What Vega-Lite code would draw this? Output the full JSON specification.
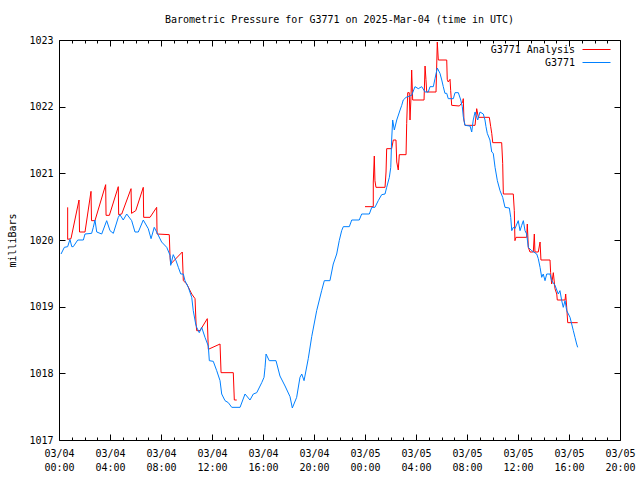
{
  "$schema": "https://vega.github.io/schema/vega-lite/v6.json",
  "width": 561,
  "height": 400,
  "autosize": {"type": "none"},
  "padding": {"left": 59, "top": 40, "right": 20, "bottom": 40},
  "background": "white",
  "title": {"text": "Barometric Pressure for G3771 on 2025-Mar-04 (time in UTC)", "font": "DejaVu Sans Mono", "fontSize": 10, "fontWeight": "normal", "anchor": "middle", "offset": 10, "color": "black"},
  "config": {
    "view": {"stroke": "black", "strokeWidth": 1},
    "axis": {"domain": false, "grid": false, "ticks": true, "labelFont": "DejaVu Sans Mono", "labelFontSize": 10, "labelColor": "black", "tickColor": "black", "tickWidth": 1, "titleFont": "DejaVu Sans Mono", "titleFontSize": 10, "titleFontWeight": "normal", "titleColor": "black"}
  },
  "datasets": {
    "analysis": [
      {"h":0.68,"p":1020.49,"seg":1},{"h":0.68,"p":1020.01,"seg":1},{"h":0.94,"p":1020.02,"seg":1},{"h":1.57,"p":1020.60,"seg":1},{"h":1.61,"p":1020.12,"seg":1},{"h":2.04,"p":1020.12,"seg":1},{"h":2.51,"p":1020.73,"seg":1},{"h":2.55,"p":1020.29,"seg":1},{"h":2.82,"p":1020.29,"seg":1},{"h":3.66,"p":1020.83,"seg":1},{"h":3.69,"p":1020.37,"seg":1},{"h":3.95,"p":1020.37,"seg":1},{"h":4.65,"p":1020.80,"seg":1},{"h":4.68,"p":1020.38,"seg":1},{"h":4.92,"p":1020.39,"seg":1},{"h":5.65,"p":1020.77,"seg":1},{"h":5.69,"p":1020.40,"seg":1},{"h":6.02,"p":1020.44,"seg":1},{"h":6.61,"p":1020.79,"seg":1},{"h":6.64,"p":1020.34,"seg":1},{"h":7.14,"p":1020.34,"seg":1},{"h":7.66,"p":1020.49,"seg":1},{"h":7.69,"p":1020.09,"seg":1},{"h":8.65,"p":1020.08,"seg":1},{"h":8.71,"p":1019.74,"seg":1},{"h":8.76,"p":1019.64,"seg":1},{"h":9.67,"p":1019.82,"seg":1},{"h":9.75,"p":1019.39,"seg":1},{"h":10.02,"p":1019.34,"seg":1},{"h":10.41,"p":1019.19,"seg":1},{"h":10.67,"p":1019.12,"seg":1},{"h":10.75,"p":1018.74,"seg":1},{"h":10.80,"p":1018.64,"seg":1},{"h":11.06,"p":1018.64,"seg":1},{"h":11.63,"p":1018.82,"seg":1},{"h":11.71,"p":1018.36,"seg":1},{"h":12.63,"p":1018.44,"seg":1},{"h":12.71,"p":1018.01,"seg":1},{"h":13.67,"p":1018.01,"seg":1},{"h":13.75,"p":1017.60,"seg":1},{"h":13.94,"p":1017.60,"seg":1},
      {"h":24.00,"p":1020.50,"seg":2},{"h":24.65,"p":1020.50,"seg":2},{"h":24.65,"p":1020.87,"seg":2},{"h":24.73,"p":1021.26,"seg":2},{"h":24.78,"p":1020.89,"seg":2},{"h":24.86,"p":1020.79,"seg":2},{"h":25.57,"p":1020.79,"seg":2},{"h":25.65,"p":1021.02,"seg":2},{"h":25.70,"p":1021.37,"seg":2},{"h":26.09,"p":1021.37,"seg":2},{"h":26.22,"p":1021.50,"seg":2},{"h":26.43,"p":1021.50,"seg":2},{"h":26.49,"p":1021.17,"seg":2},{"h":26.61,"p":1021.05,"seg":2},{"h":26.69,"p":1021.28,"seg":2},{"h":27.22,"p":1021.28,"seg":2},{"h":27.27,"p":1021.75,"seg":2},{"h":27.35,"p":1022.21,"seg":2},{"h":27.47,"p":1022.21,"seg":2},{"h":27.53,"p":1021.80,"seg":2},{"h":27.61,"p":1022.15,"seg":2},{"h":27.66,"p":1022.55,"seg":2},{"h":27.74,"p":1022.10,"seg":2},{"h":28.63,"p":1022.10,"seg":2},{"h":28.71,"p":1022.61,"seg":2},{"h":28.78,"p":1022.41,"seg":2},{"h":28.84,"p":1022.22,"seg":2},{"h":29.57,"p":1022.22,"seg":2},{"h":29.67,"p":1022.97,"seg":2},{"h":29.75,"p":1022.70,"seg":2},{"h":30.41,"p":1022.70,"seg":2},{"h":30.45,"p":1022.41,"seg":2},{"h":30.53,"p":1022.37,"seg":2},{"h":30.67,"p":1022.41,"seg":2},{"h":30.72,"p":1022.24,"seg":2},{"h":30.80,"p":1022.02,"seg":2},{"h":31.40,"p":1022.01,"seg":2},{"h":31.66,"p":1022.07,"seg":2},{"h":31.71,"p":1022.12,"seg":2},{"h":31.76,"p":1021.80,"seg":2},{"h":31.84,"p":1021.72,"seg":2},{"h":32.63,"p":1021.72,"seg":2},{"h":32.76,"p":1021.97,"seg":2},{"h":32.89,"p":1021.84,"seg":2},{"h":33.75,"p":1021.84,"seg":2},{"h":33.86,"p":1021.70,"seg":2},{"h":33.94,"p":1021.60,"seg":2},{"h":34.02,"p":1021.46,"seg":2},{"h":34.72,"p":1021.46,"seg":2},{"h":34.80,"p":1021.15,"seg":2},{"h":34.85,"p":1020.69,"seg":2},{"h":35.63,"p":1020.69,"seg":2},{"h":35.71,"p":1020.44,"seg":2},{"h":35.76,"p":1019.99,"seg":2},{"h":35.84,"p":1020.04,"seg":2},{"h":36.68,"p":1020.04,"seg":2},{"h":36.73,"p":1020.24,"seg":2},{"h":36.81,"p":1019.89,"seg":2},{"h":36.94,"p":1019.82,"seg":2},{"h":37.20,"p":1019.82,"seg":2},{"h":37.28,"p":1020.09,"seg":2},{"h":37.33,"p":1019.82,"seg":2},{"h":37.59,"p":1019.82,"seg":2},{"h":37.73,"p":1019.97,"seg":2},{"h":37.80,"p":1019.70,"seg":2},{"h":38.51,"p":1019.70,"seg":2},{"h":38.56,"p":1019.51,"seg":2},{"h":38.64,"p":1019.34,"seg":2},{"h":38.77,"p":1019.51,"seg":2},{"h":38.90,"p":1019.27,"seg":2},{"h":39.04,"p":1019.19,"seg":2},{"h":39.08,"p":1019.10,"seg":2},{"h":39.69,"p":1019.10,"seg":2},{"h":39.74,"p":1019.19,"seg":2},{"h":39.82,"p":1018.99,"seg":2},{"h":39.90,"p":1018.76,"seg":2},{"h":40.68,"p":1018.76,"seg":2}
    ],
    "obs": [
      {"h":0.16,"p":1019.79},{"h":0.42,"p":1019.89},{"h":0.68,"p":1019.90},{"h":0.86,"p":1020.01},{"h":1.00,"p":1019.90},{"h":1.12,"p":1019.90},{"h":1.47,"p":1020.00},{"h":1.91,"p":1020.00},{"h":2.04,"p":1020.09},{"h":2.56,"p":1020.10},{"h":2.69,"p":1020.19},{"h":2.82,"p":1020.30},{"h":2.96,"p":1020.12},{"h":3.35,"p":1020.09},{"h":3.74,"p":1020.29},{"h":4.00,"p":1020.14},{"h":4.26,"p":1020.10},{"h":4.65,"p":1020.34},{"h":4.78,"p":1020.38},{"h":5.04,"p":1020.30},{"h":5.31,"p":1020.39},{"h":5.70,"p":1020.29},{"h":5.96,"p":1020.12},{"h":6.22,"p":1020.12},{"h":6.61,"p":1020.30},{"h":7.00,"p":1020.17},{"h":7.22,"p":1020.02},{"h":7.47,"p":1020.19},{"h":7.66,"p":1020.12},{"h":8.05,"p":1019.97},{"h":8.45,"p":1019.89},{"h":8.71,"p":1019.77},{"h":8.76,"p":1019.62},{"h":8.96,"p":1019.78},{"h":9.18,"p":1019.69},{"h":9.36,"p":1019.59},{"h":9.55,"p":1019.49},{"h":9.75,"p":1019.49},{"h":9.88,"p":1019.39},{"h":10.14,"p":1019.29},{"h":10.41,"p":1019.14},{"h":10.53,"p":1018.94},{"h":10.72,"p":1018.74},{"h":10.80,"p":1018.69},{"h":11.00,"p":1018.61},{"h":11.19,"p":1018.69},{"h":11.45,"p":1018.54},{"h":11.71,"p":1018.41},{"h":11.79,"p":1018.19},{"h":12.10,"p":1018.18},{"h":12.37,"p":1018.04},{"h":12.63,"p":1017.89},{"h":12.76,"p":1017.69},{"h":13.02,"p":1017.59},{"h":13.28,"p":1017.56},{"h":13.55,"p":1017.49},{"h":14.20,"p":1017.49},{"h":14.59,"p":1017.69},{"h":14.98,"p":1017.60},{"h":15.24,"p":1017.69},{"h":15.51,"p":1017.71},{"h":15.90,"p":1017.86},{"h":16.08,"p":1017.94},{"h":16.16,"p":1018.09},{"h":16.24,"p":1018.29},{"h":16.49,"p":1018.19},{"h":17.02,"p":1018.19},{"h":17.33,"p":1017.96},{"h":17.73,"p":1017.81},{"h":18.12,"p":1017.65},{"h":18.30,"p":1017.48},{"h":18.64,"p":1017.64},{"h":18.90,"p":1017.94},{"h":19.04,"p":1017.99},{"h":19.22,"p":1017.89},{"h":19.55,"p":1018.22},{"h":19.82,"p":1018.55},{"h":20.21,"p":1018.94},{"h":20.60,"p":1019.24},{"h":20.81,"p":1019.39},{"h":21.25,"p":1019.39},{"h":21.51,"p":1019.64},{"h":21.78,"p":1019.79},{"h":21.98,"p":1019.99},{"h":22.17,"p":1020.14},{"h":22.30,"p":1020.20},{"h":22.77,"p":1020.20},{"h":22.96,"p":1020.30},{"h":23.55,"p":1020.30},{"h":23.74,"p":1020.39},{"h":24.34,"p":1020.39},{"h":24.53,"p":1020.49},{"h":24.78,"p":1020.49},{"h":25.04,"p":1020.59},{"h":25.31,"p":1020.68},{"h":25.57,"p":1020.69},{"h":25.70,"p":1020.79},{"h":25.91,"p":1020.94},{"h":26.02,"p":1021.09},{"h":26.09,"p":1021.50},{"h":26.17,"p":1021.80},{"h":26.30,"p":1021.65},{"h":26.49,"p":1021.80},{"h":26.75,"p":1021.95},{"h":26.88,"p":1022.02},{"h":27.00,"p":1022.10},{"h":27.22,"p":1022.14},{"h":27.66,"p":1022.17},{"h":27.92,"p":1022.30},{"h":28.18,"p":1022.27},{"h":28.45,"p":1022.30},{"h":28.71,"p":1022.22},{"h":28.96,"p":1022.22},{"h":29.10,"p":1022.30},{"h":29.36,"p":1022.30},{"h":29.49,"p":1022.42},{"h":29.67,"p":1022.58},{"h":29.88,"p":1022.50},{"h":30.02,"p":1022.40},{"h":30.14,"p":1022.30},{"h":30.27,"p":1022.20},{"h":30.41,"p":1022.20},{"h":30.53,"p":1022.12},{"h":30.93,"p":1022.12},{"h":31.06,"p":1022.21},{"h":31.32,"p":1022.21},{"h":31.51,"p":1022.10},{"h":31.63,"p":1022.00},{"h":31.71,"p":1021.85},{"h":31.84,"p":1021.72},{"h":32.24,"p":1021.71},{"h":32.37,"p":1021.62},{"h":32.49,"p":1021.80},{"h":32.63,"p":1021.92},{"h":32.84,"p":1021.80},{"h":33.02,"p":1021.92},{"h":33.28,"p":1021.89},{"h":33.41,"p":1021.80},{"h":33.49,"p":1021.70},{"h":33.59,"p":1021.60},{"h":33.80,"p":1021.50},{"h":33.94,"p":1021.32},{"h":34.06,"p":1021.30},{"h":34.20,"p":1021.09},{"h":34.38,"p":1020.89},{"h":34.59,"p":1020.74},{"h":34.80,"p":1020.64},{"h":34.98,"p":1020.49},{"h":35.32,"p":1020.48},{"h":35.43,"p":1020.34},{"h":35.51,"p":1020.14},{"h":35.63,"p":1020.19},{"h":35.76,"p":1020.17},{"h":36.02,"p":1020.29},{"h":36.16,"p":1020.14},{"h":36.29,"p":1020.22},{"h":36.42,"p":1020.29},{"h":36.55,"p":1020.14},{"h":36.68,"p":1020.09},{"h":36.81,"p":1019.89},{"h":37.07,"p":1019.84},{"h":37.47,"p":1019.79},{"h":37.59,"p":1019.72},{"h":37.73,"p":1019.59},{"h":37.86,"p":1019.44},{"h":37.98,"p":1019.49},{"h":38.12,"p":1019.39},{"h":38.25,"p":1019.49},{"h":38.51,"p":1019.49},{"h":38.64,"p":1019.39},{"h":38.90,"p":1019.32},{"h":39.16,"p":1019.19},{"h":39.29,"p":1019.24},{"h":39.43,"p":1019.09},{"h":39.55,"p":1018.99},{"h":39.69,"p":1019.09},{"h":39.82,"p":1018.94},{"h":40.08,"p":1018.84},{"h":40.21,"p":1018.74},{"h":40.34,"p":1018.64},{"h":40.47,"p":1018.54},{"h":40.60,"p":1018.44},{"h":40.68,"p":1018.39}
    ]
  },
  "layer": [
    {
      "data": {"name": "analysis"},
      "mark": {"type": "line", "strokeWidth": 1, "clip": true},
      "encoding": {
        "x": {"field": "h", "type": "quantitative", "scale": {"domain": [0, 44], "nice": false, "zero": false},
          "axis": {"orient": "bottom", "values": [0,4,8,12,16,20,24,28,32,36,40,44], "offset": -6, "tickSize": 6,
            "labelExpr": "[datum.value < 24 ? '03/04' : '03/05', (datum.value % 24 < 10 ? '0' : '') + (datum.value % 24) + ':00']",
            "labelPadding": 8, "labelLineHeight": 14, "labelOverlap": false, "labelBound": false, "labelFlush": false, "labelBaseline": "top", "title": null}},
        "y": {"field": "p", "type": "quantitative", "scale": {"domain": [1017, 1023], "nice": false, "zero": false},
          "axis": {"orient": "left", "values": [1017,1018,1019,1020,1021,1022,1023], "format": "d", "offset": -6, "tickSize": 6, "labelPadding": 6, "labelOverlap": false, "labelBound": false,
            "title": "milliBars", "titleX": -53, "titleY": 200, "titleAngle": -90, "titleBaseline": "middle", "titleAlign": "center"}},
        "color": {"datum": "G3771 Analysis", "scale": {"domain": ["G3771 Analysis", "G3771"], "range": ["#ff0000", "#0080ff"]},
          "legend": {"orient": "none", "legendX": 530, "legendY": 2, "title": null, "symbolType": "M-2,0H2", "symbolSize": 196, "symbolStrokeWidth": 1,
            "labelAlign": "right", "labelOffset": -29, "labelFont": "DejaVu Sans Mono", "labelFontSize": 10, "labelColor": "black", "rowPadding": 0, "padding": 0, "labelLimit": 0}},
        "detail": {"field": "seg"},
        "order": {"value": null}
      }
    },
    {
      "data": {"name": "obs"},
      "mark": {"type": "line", "strokeWidth": 1, "clip": true},
      "encoding": {
        "x": {"field": "h", "type": "quantitative",
          "axis": {"orient": "top", "values": [0,4,8,12,16,20,24,28,32,36,40,44], "offset": -6, "tickSize": 6, "labels": false, "title": null}},
        "y": {"field": "p", "type": "quantitative",
          "axis": {"orient": "right", "values": [1017,1018,1019,1020,1021,1022,1023], "offset": -6, "tickSize": 6, "labels": false, "title": null}},
        "color": {"datum": "G3771"},
        "order": {"value": null}
      }
    },
    {
      "data": {"name": "obs"},
      "mark": {"type": "line", "opacity": 0},
      "encoding": {
        "x": {"field": "h", "type": "quantitative",
          "axis": {"orient": "bottom", "values": [1,2,3,5,6,7,9,10,11,13,14,15,17,18,19,21,22,23,25,26,27,29,30,31,33,34,35,37,38,39,41,42,43], "offset": -3, "tickSize": 3, "labels": false, "title": null}},
        "y": {"field": "p", "type": "quantitative", "axis": null}
      }
    },
    {
      "data": {"name": "obs"},
      "mark": {"type": "line", "opacity": 0},
      "encoding": {
        "x": {"field": "h", "type": "quantitative",
          "axis": {"orient": "top", "values": [1,2,3,5,6,7,9,10,11,13,14,15,17,18,19,21,22,23,25,26,27,29,30,31,33,34,35,37,38,39,41,42,43], "offset": -3, "tickSize": 3, "labels": false, "title": null}},
        "y": {"field": "p", "type": "quantitative", "axis": null}
      }
    }
  ],
  "resolve": {"axis": {"x": "independent", "y": "independent"}}
}
